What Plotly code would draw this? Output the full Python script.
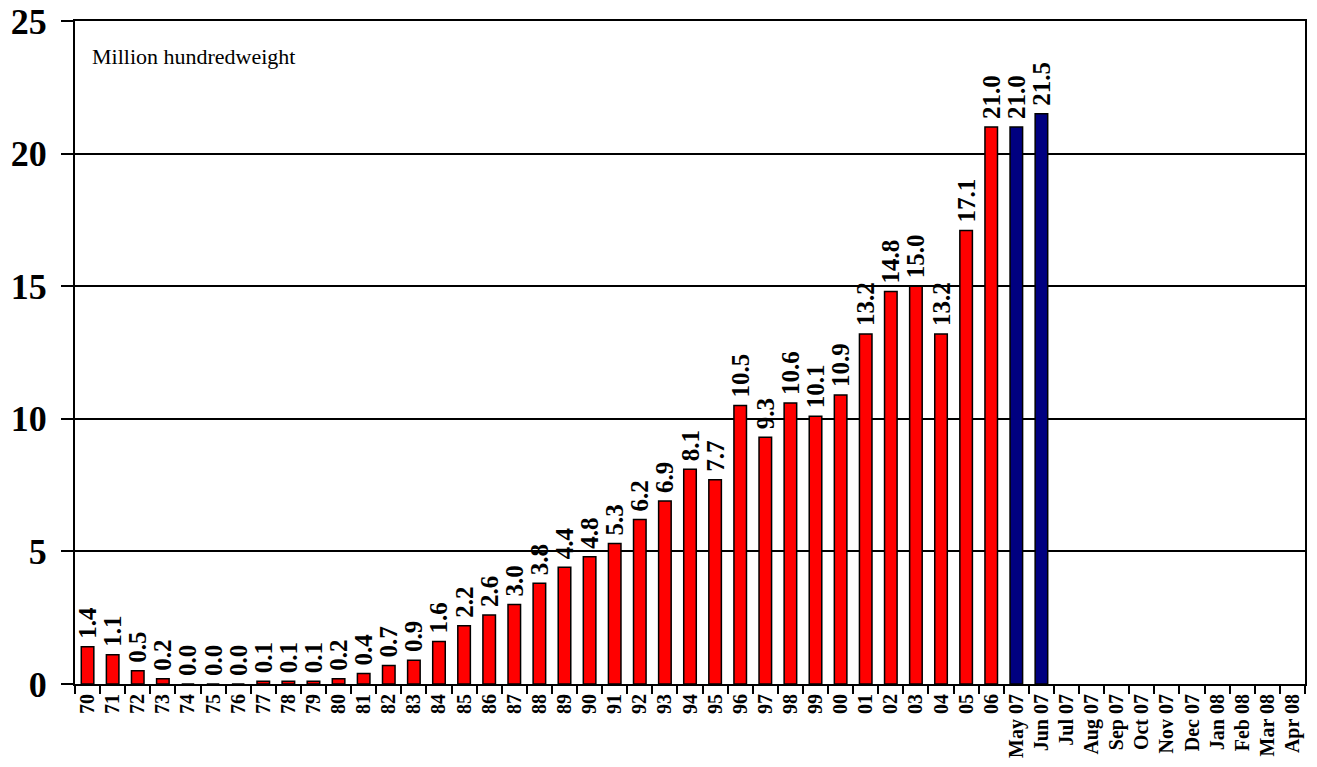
import plotly.graph_objects as go

years = ["70","71","72","73","74","75","76","77","78","79","80","81","82","83","84","85","86","87","88","89",
         "90","91","92","93","94","95","96","97","98","99","00","01","02","03","04","05","06"]
year_values = [1.4,1.1,0.5,0.2,0.0,0.0,0.0,0.1,0.1,0.1,0.2,0.4,0.7,0.9,1.6,2.2,2.6,3.0,3.8,4.4,
               4.8,5.3,6.2,6.9,8.1,7.7,10.5,9.3,10.6,10.1,10.9,13.2,14.8,15.0,13.2,17.1,21.0]
months = ["May 07","Jun 07","Jul 07","Aug 07","Sep 07","Oct 07","Nov 07","Dec 07","Jan 08","Feb 08","Mar 08","Apr 08"]
month_values = [21.0, 21.5]

categories = years + months
font = "Liberation Serif, Times New Roman, serif"
label_font = dict(family=font, size=25, color="black", weight="bold")


def labels(values):
    # thin space keeps a small gap between bar top and rotated label
    return ["\u2009" + f"{v:.1f}" for v in values]


fig = go.Figure()
fig.add_trace(go.Bar(
    x=years, y=year_values,
    marker=dict(color="#ff0000", line=dict(color="black", width=1.5)),
    text=labels(year_values), textposition="outside", textangle=-90,
    constraintext="none", textfont=label_font,
    cliponaxis=False, showlegend=False,
))
fig.add_trace(go.Bar(
    x=months[:len(month_values)], y=month_values,
    marker=dict(color="#000080", line=dict(color="black", width=1.5)),
    text=labels(month_values), textposition="outside", textangle=-90,
    constraintext="none", textfont=label_font,
    cliponaxis=False, showlegend=False,
))

fig.update_layout(
    width=1317, height=767,
    margin=dict(l=67, r=20, t=13, b=91, autoexpand=False),
    plot_bgcolor="white", paper_bgcolor="white",
    barmode="overlay", bargap=0.5,
    font=dict(family=font, color="black"),
    xaxis=dict(
        type="category", categoryorder="array", categoryarray=categories,
        range=[-0.5, len(categories) - 0.5], automargin=False,
        tickmode="array", tickvals=categories, ticktext=categories,
        tickangle=-90, tickfont=dict(family=font, size=20, color="black", weight="bold"),
        tickson="boundaries", ticks="outside", ticklen=8, tickcolor="black", tickwidth=2,
        showline=True, linecolor="black", linewidth=2, mirror=True,
        showgrid=False,
    ),
    yaxis=dict(
        range=[0, 25], tickvals=[0, 5, 10, 15, 20, 25], automargin=False,
        tickfont=dict(family=font, size=36, color="black", weight="bold"),
        ticklabeloverflow="allow", ticklabelstandoff=7,
        ticks="outside", ticklen=12, tickcolor="black", tickwidth=2,
        showline=True, linecolor="black", linewidth=2, mirror=True,
        showgrid=True, gridcolor="black", gridwidth=1.5, zeroline=False,
    ),
    annotations=[dict(
        text="Million hundredweight", xref="paper", yref="paper",
        x=0.012, y=0.946, xanchor="left", yanchor="middle", showarrow=False,
        font=dict(family=font, size=22, color="black"),
    )],
)

fig.write_html("out.html")
